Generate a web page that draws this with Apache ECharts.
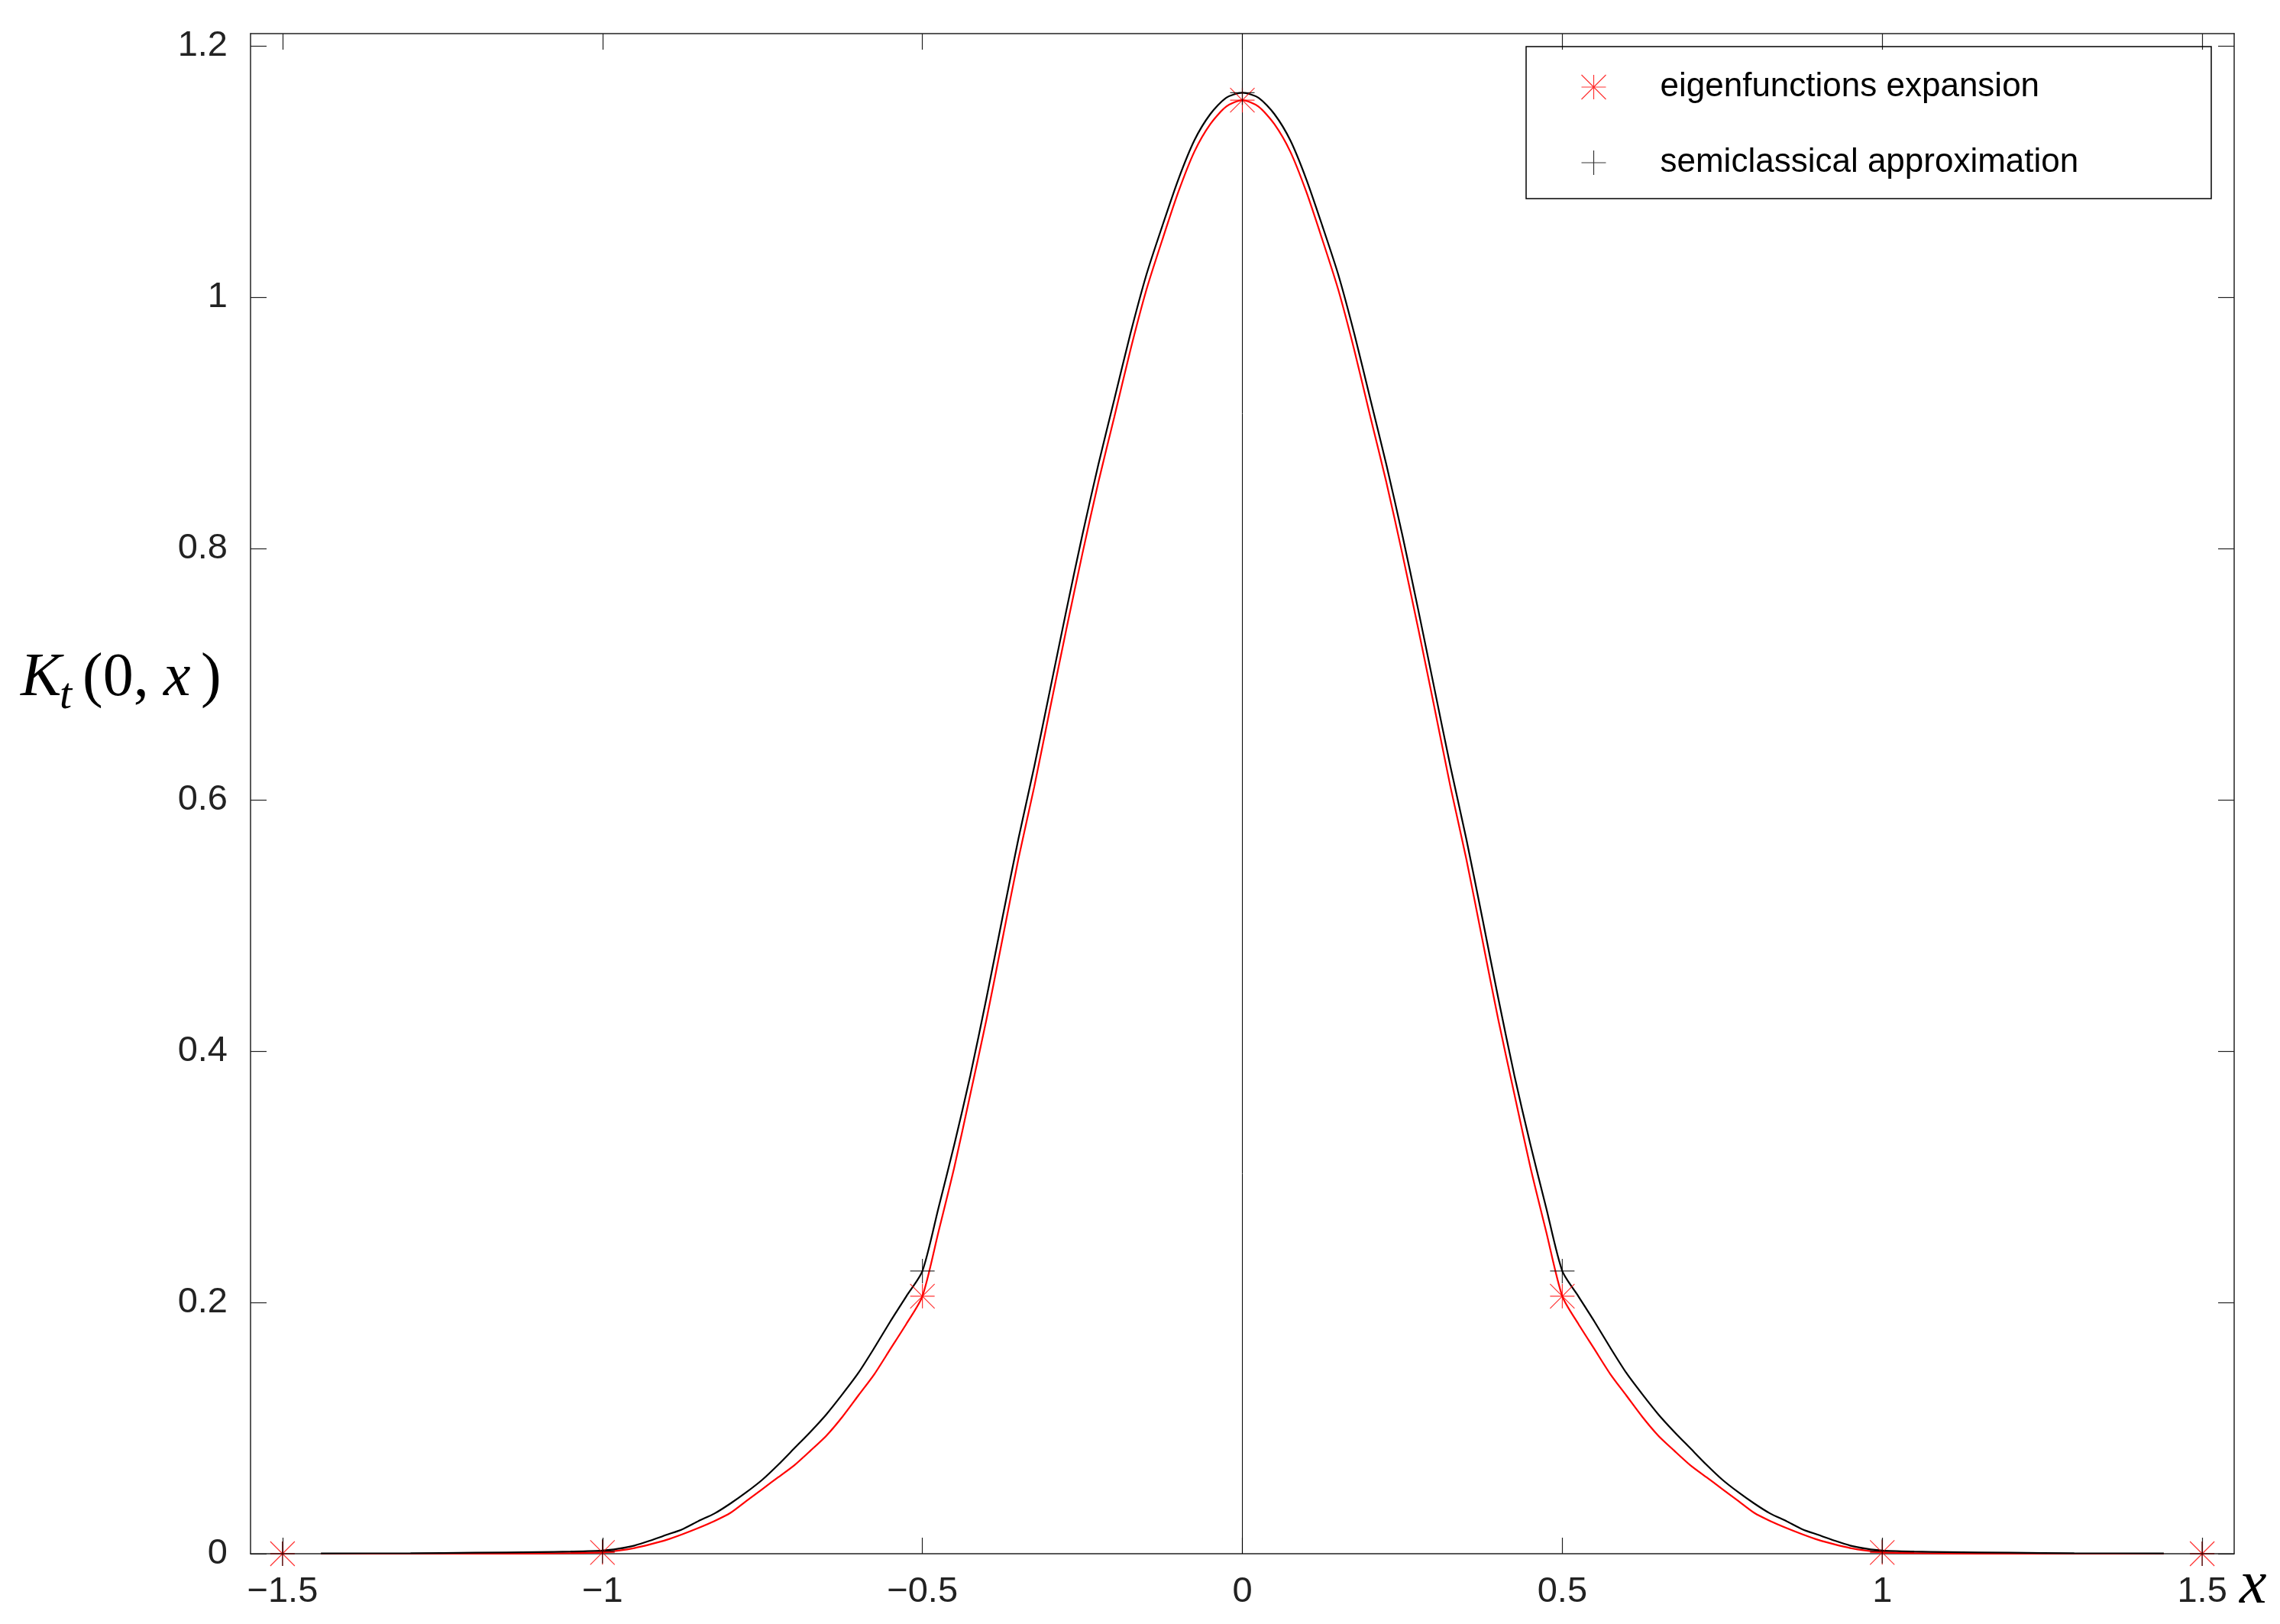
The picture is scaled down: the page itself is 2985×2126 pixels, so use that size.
<!DOCTYPE html>
<html>
<head>
<meta charset="utf-8">
<script src="https://cdn.jsdelivr.net/npm/echarts/dist/echarts.min.js"></script>
<style>
html,body{margin:0;padding:0;background:#fff;}
#c{width:2985px;height:2126px;}
</style>
</head>
<body>
<div id="c"></div>
<script>
// ---- data ----
const curveX = [-1.44,-1.3,-1.2,-1.1,-1.05,-1,-0.975,-0.95,-0.925,-0.9,-0.875,-0.85,-0.825,-0.8,-0.775,-0.75,-0.725,-0.7,-0.675,-0.65,-0.625,-0.6,-0.575,-0.55,-0.525,-0.5,
  -0.475,-0.45,-0.425,-0.4,-0.375,-0.35,-0.325,-0.3,-0.275,-0.25,-0.225,-0.2,-0.175,-0.15,-0.125,-0.1,-0.075,-0.05,-0.025,
  0,0.025,0.05,0.075,0.1,0.125,0.15,0.175,0.2,0.225,0.25,0.275,0.3,0.325,0.35,0.375,0.4,0.425,0.45,0.475,
  0.5,0.525,0.55,0.575,0.6,0.625,0.65,0.675,0.7,0.725,0.75,0.775,0.8,0.825,0.85,0.875,0.9,0.925,0.95,0.975,1,1.05,1.1,1.2,1.3,1.44];

const eigenCurve = [0,0,0.0001,0.0002,0.0005,0.0012,0.0025,0.0045,0.0075,0.011,0.0155,0.0205,0.026,0.0325,0.042,0.0515,0.061,0.0705,0.082,0.094,0.109,0.126,0.143,0.163,0.183,0.205,
  0.256,0.308,0.366,0.425,0.489,0.553,0.611,0.674,0.736,0.796,0.853,0.905,0.958,1.006,1.046,1.084,1.116,1.138,1.152,
  1.157,1.152,1.138,1.116,1.084,1.046,1.006,0.958,0.905,0.853,0.796,0.736,0.674,0.611,0.553,0.489,0.425,0.366,0.308,0.256,
  0.205,0.183,0.163,0.143,0.126,0.109,0.094,0.082,0.0705,0.061,0.0515,0.042,0.0325,0.026,0.0205,0.0155,0.011,0.0075,0.0045,0.0025,0.0012,0.0005,0.0002,0.0001,0,0];

const semiCurve = [0.0002,0.0004,0.0008,0.0013,0.0017,0.0025,0.004,0.0065,0.0105,0.015,0.0195,0.026,0.032,0.040,0.049,0.059,0.071,0.084,0.097,0.111,0.127,0.144,0.164,0.185,0.205,0.225,
  0.275,0.326,0.381,0.442,0.506,0.569,0.627,0.689,0.751,0.811,0.867,0.919,0.971,1.018,1.057,1.094,1.125,1.146,1.159,
  1.163,1.159,1.146,1.125,1.094,1.057,1.018,0.971,0.919,0.867,0.811,0.751,0.689,0.627,0.569,0.506,0.442,0.381,0.326,0.275,
  0.225,0.205,0.185,0.164,0.144,0.127,0.111,0.097,0.084,0.071,0.059,0.049,0.040,0.032,0.026,0.0195,0.015,0.0105,0.0065,0.004,0.0025,0.0017,0.0013,0.0008,0.0004,0.0002];

const markerX = [-1.5,-1,-0.5,0,0.5,1,1.5];
const eigenMarkers = [0,0.001,0.205,1.157,0.205,0.001,0];
const semiMarkers = [0,0.002,0.225,1.163,0.225,0.002,0];

const xTicks = [-1.5,-1,-0.5,0,0.5,1,1.5];
const yTicks = [0,0.2,0.4,0.6,0.8,1,1.2];

const legendNames = ['eigenfunctions expansion','semiclassical approximation'];

// ---- chart ----
const pairs = (xs, ys) => xs.map((x, i) => [x, ys[i]]);
const ASTER = 'path://M0,-1L0,1M-1,0L1,0M-1,-1L1,1M-1,1L1,-1';
const PLUS = 'path://M0,-1L0,1M-1,0L1,0';
const AX = '#222';
const SANS = 'Liberation Sans';
const SERIF = 'Liberation Serif';

const chart = echarts.init(document.getElementById('c'), null, {renderer: 'canvas'});

const xBase = {
  type: 'value', min: -1.55, max: 1.55,
  axisLine: {show: true, onZero: false, lineStyle: {color: AX, width: 1.5}},
  axisTick: {show: true, inside: true, length: 21, customValues: xTicks, lineStyle: {color: AX, width: 1.2}},
  splitLine: {show: false}
};
const yBase = {
  type: 'value', min: 0, max: 1.21,
  axisLine: {show: true, onZero: false, lineStyle: {color: AX, width: 1.5}},
  axisTick: {show: true, inside: true, length: 21, customValues: yTicks, lineStyle: {color: AX, width: 1.2}},
  splitLine: {show: false}
};

chart.setOption({
  animation: false,
  backgroundColor: '#fff',
  grid: {left: 328, right: 60, top: 44, bottom: 92, containLabel: false},
  xAxis: [
    Object.assign({}, xBase, {position: 'bottom',
      axisLabel: {show: true, customValues: xTicks, margin: 27, color: AX, fontSize: 47, fontFamily: SANS,
        formatter: v => String(v).replace('-', '\u2212')}}),
    Object.assign({}, xBase, {position: 'top', axisLabel: {show: false}})
  ],
  yAxis: [
    Object.assign({}, yBase, {position: 'left',
      axisLabel: {show: true, customValues: yTicks, margin: 30, color: AX, fontSize: 47, fontFamily: SANS,
        formatter: v => String(v)}}),
    Object.assign({}, yBase, {position: 'right', axisLabel: {show: false}})
  ],
  legend: {
    orient: 'vertical', left: 2068, top: 92, padding: 0,
    itemWidth: 164, itemHeight: 32, itemGap: 55,
    selectedMode: false,
    textStyle: {fontSize: 44, fontFamily: SANS, color: '#000', lineHeight: 32, padding: [0, 0, 0, 0]},
    data: [
      {name: legendNames[0], icon: ASTER, itemStyle: {color: 'none', borderColor: '#ff0000', borderWidth: 1.2}},
      {name: legendNames[1], icon: PLUS, itemStyle: {color: 'none', borderColor: '#000', borderWidth: 1.2}}
    ]
  },
  graphic: [
    {type: 'rect', shape: {x: 1998, y: 61, width: 897, height: 199},
     style: {fill: 'none', stroke: '#000', lineWidth: 1.5}, z: 10},
    {type: 'text', x: 27, y: 889, style: {text: 'K', font: 'italic 80px "' + SERIF + '"', fill: '#000', verticalAlign: 'middle'}},
    {type: 'text', x: 78, y: 912, style: {text: 't', font: 'italic 58px "' + SERIF + '"', fill: '#000', verticalAlign: 'middle'}},
    {type: 'text', x: 108, y: 889, style: {text: '(0,', font: '80px "' + SERIF + '"', fill: '#000', verticalAlign: 'middle'}},
    {type: 'text', x: 214, y: 889, style: {text: 'x', font: 'italic 80px "' + SERIF + '"', fill: '#000', verticalAlign: 'middle'}},
    {type: 'text', x: 263, y: 889, style: {text: ')', font: '80px "' + SERIF + '"', fill: '#000', verticalAlign: 'middle'}},
    {type: 'text', x: 2932, y: 2077, style: {text: 'x', font: 'italic 80px "' + SERIF + '"', fill: '#000', verticalAlign: 'middle'}}
  ],
  series: [
    {
      name: 'eigCurve', type: 'line', xAxisIndex: 0, yAxisIndex: 0,
      data: pairs(curveX, eigenCurve), showSymbol: false, symbol: 'none', smooth: 0.25,
      lineStyle: {color: '#ff0000', width: 2.2}, itemStyle: {color: '#ff0000'}, z: 2, silent: true,
      markLine: {
        silent: true, symbol: 'none', label: {show: false},
        lineStyle: {color: '#000', width: 1, type: 'solid'},
        data: [{xAxis: 0}]
      }
    },
    {
      name: 'semiCurve', type: 'line', xAxisIndex: 0, yAxisIndex: 0,
      data: pairs(curveX, semiCurve), showSymbol: false, symbol: 'none', smooth: 0.25,
      lineStyle: {color: '#000', width: 2.2}, itemStyle: {color: '#000'}, z: 3, silent: true
    },
    {
      name: legendNames[0], type: 'scatter', xAxisIndex: 0, yAxisIndex: 0,
      data: pairs(markerX, eigenMarkers), symbol: ASTER, symbolSize: 32, symbolKeepAspect: true,
      itemStyle: {color: 'none', borderColor: '#ff0000', borderWidth: 1.2}, z: 5, clip: false, silent: true
    },
    {
      name: legendNames[1], type: 'scatter', xAxisIndex: 0, yAxisIndex: 0,
      data: pairs(markerX, semiMarkers), symbol: PLUS, symbolSize: 32, symbolKeepAspect: true,
      itemStyle: {color: 'none', borderColor: '#000', borderWidth: 1.2}, z: 6, clip: false, silent: true
    }
  ]
});
</script>
</body>
</html>
